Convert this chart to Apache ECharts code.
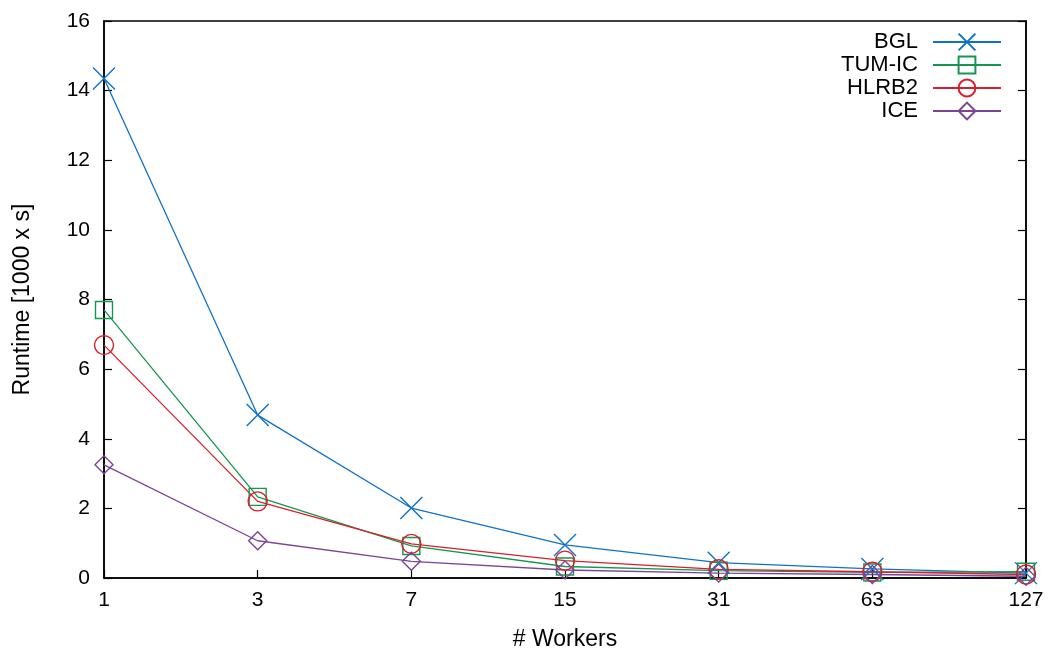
<!DOCTYPE html>
<html>
<head>
<meta charset="utf-8">
<script src="https://cdn.jsdelivr.net/npm/echarts@6/dist/echarts.min.js"></script>
<style>
  html, body { margin: 0; padding: 0; background: #fff; }
  #chart { width: 1051px; height: 651px; }
</style>
</head>
<body>
<div id="chart"></div>
<script>
// Runtime (in thousands of seconds) against number of workers
const workers = ['1', '3', '7', '15', '31', '63', '127'];
const bgl    = [14.35, 4.68, 2.01, 0.95, 0.44, 0.26, 0.14];
const tumIc  = [7.70, 2.33, 0.92, 0.33, 0.21, 0.16, 0.18];
const hlrb2  = [6.69, 2.20, 0.98, 0.50, 0.25, 0.18, 0.10];
const ice    = [3.25, 1.07, 0.48, 0.23, 0.14, 0.10, 0.05];
const yTicks = { min: 0, max: 16, interval: 2 };

const FONT = '"Liberation Sans", Arial, sans-serif';
const crossPath = 'path://M0,0L10,10M10,0L0,10';

function makeSeries(name, data, color, symbol, size) {
  return {
    name: name,
    type: 'line',
    data: data,
    symbol: symbol,
    symbolSize: size,
    showAllSymbol: true,
    lineStyle: { color: color, width: 1.3 },
    itemStyle: { color: 'transparent', borderColor: color, borderWidth: 1.4 },
    emphasis: { disabled: true },
    animation: false,
    z: 3
  };
}

const chart = echarts.init(document.getElementById('chart'), null, { renderer: 'canvas' });

const tickText = { fontFamily: FONT, fontSize: 21, color: '#000' };
const nameText = { fontFamily: FONT, fontSize: 23, color: '#000' };

chart.setOption({
  backgroundColor: '#fff',
  animation: false,
  grid: {
    left: 104, right: 25, top: 21, bottom: 73,
    outerBoundsMode: 'none',
    containLabel: false,
    show: true, borderColor: '#000', borderWidth: 1.5, backgroundColor: 'transparent'
  },
  legend: {
    orient: 'vertical',
    right: 44,
    top: 26,
    align: 'right',
    itemWidth: 68,
    itemHeight: 21,
    itemGap: 1,
    selectedMode: false,
    textStyle: {
      fontFamily: FONT, fontSize: 22, color: '#000',
      width: 130, align: 'right', padding: [0, 10, 0, 0]
    },
    data: ['BGL', 'TUM-IC', 'HLRB2', 'ICE']
  },
  xAxis: [{
    type: 'category',
    data: workers,
    boundaryGap: false,
    name: '# Workers',
    nameLocation: 'middle',
    nameGap: 50,
    nameTextStyle: nameText,
    axisLine: { show: true, lineStyle: { color: '#000', width: 1.5 } },
    axisTick: { show: true, inside: true, length: 8, alignWithLabel: true, lineStyle: { color: '#000', width: 1.2 } },
    axisLabel: Object.assign({ margin: 12, showMinLabel: true, showMaxLabel: true, interval: 0 }, tickText),
    splitLine: { show: false }
  }],
  yAxis: [{
    type: 'value',
    min: yTicks.min, max: yTicks.max, interval: yTicks.interval,
    name: 'Runtime [1000 x s]',
    nameLocation: 'middle',
    nameGap: 70,
    nameTextStyle: nameText,
    axisLine: { show: true, lineStyle: { color: '#000', width: 1.5 } },
    axisTick: { show: true, inside: true, length: 8, lineStyle: { color: '#000', width: 1.2 } },
    axisLabel: Object.assign({ margin: 14 }, tickText),
    splitLine: { show: false }
  }, {
    type: 'value',
    position: 'right',
    min: yTicks.min, max: yTicks.max, interval: yTicks.interval,
    axisLine: { show: true, lineStyle: { color: '#000', width: 1.5 } },
    axisTick: { show: true, inside: true, length: 8, lineStyle: { color: '#000', width: 1.2 } },
    axisLabel: { show: false },
    splitLine: { show: false }
  }],
  series: [
    makeSeries('BGL', bgl, '#0f72c7', crossPath, 22),
    makeSeries('TUM-IC', tumIc, '#16964e', 'rect', 17),
    makeSeries('HLRB2', hlrb2, '#d8202a', 'circle', 19),
    makeSeries('ICE', ice, '#7c4496', 'diamond', 18)
  ]
});
</script>
</body>
</html>
